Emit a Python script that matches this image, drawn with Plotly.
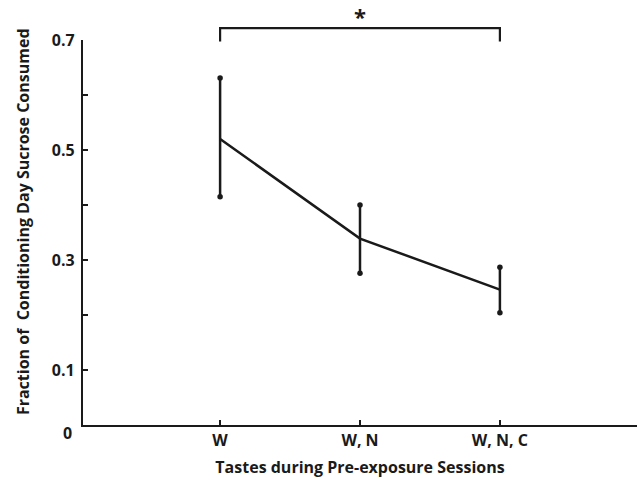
import plotly.graph_objects as go

categories = ["W", "W, N", "W, N, C"]
x_pos = [1, 2, 3]
means = [0.520, 0.339, 0.246]
err_plus = [0.111, 0.061, 0.041]
err_minus = [0.105, 0.063, 0.042]
y_tickvals = [0.1, 0.2, 0.3, 0.4, 0.5, 0.6, 0.7]
y_ticktext = ["0.1", "", "0.3", "", "0.5", "", "0.7"]
sig_pair = [1, 3]
sig_label = "*"

FONT = "Open Sans"
INK = "#1a1a1a"
FS = 16

fig = go.Figure()

fig.add_trace(go.Scatter(
    x=x_pos, y=means, mode="lines",
    line=dict(color=INK, width=2.5),
    error_y=dict(type="data", symmetric=False, array=err_plus, arrayminus=err_minus,
                 color=INK, thickness=2.5, width=0),
    showlegend=False, hoverinfo="skip",
))

ends_x = x_pos + x_pos
ends_y = [m + e for m, e in zip(means, err_plus)] + [m - e for m, e in zip(means, err_minus)]
fig.add_trace(go.Scatter(
    x=ends_x, y=ends_y, mode="markers",
    marker=dict(color=INK, size=5.5),
    showlegend=False, hoverinfo="skip", cliponaxis=False,
))

# significance bracket
br_low, br_high = 0.996, 1.031
fig.add_shape(type="path", xref="x", yref="paper",
              path=f"M {sig_pair[0]} {br_low} L {sig_pair[0]} {br_high} L {sig_pair[1]} {br_high} L {sig_pair[1]} {br_low}",
              line=dict(color=INK, width=2.2))
fig.add_annotation(x=(sig_pair[0] + sig_pair[1]) / 2, xref="x", y=br_high, yref="paper",
                   yanchor="bottom", text="<b>" + sig_label + "</b>", showarrow=False,
                   font=dict(family=FONT, size=22, color=INK), yshift=-5)

# zero label
fig.add_annotation(x=0, xref="paper", y=0, yref="y", text="<b>0</b>", showarrow=False,
                   xanchor="right", yanchor="middle", xshift=-9, yshift=-8,
                   font=dict(family=FONT, size=FS, color=INK))

# y-axis title
fig.add_annotation(x=0, xref="paper", y=0.527, yref="paper",
                   text="<b>Fraction of  Conditioning Day Sucrose Consumed</b>",
                   textangle=-90, showarrow=False, xanchor="center", yanchor="middle",
                   xshift=-60, font=dict(family=FONT, size=FS, color=INK))

fig.update_layout(
    width=639, height=480,
    margin=dict(l=83, r=2, t=40, b=55),
    paper_bgcolor="white", plot_bgcolor="white",
    font=dict(family=FONT, color=INK),
    xaxis=dict(
        range=[0.02, 3.98], tickvals=x_pos,
        ticktext=[f"<b>{c}</b>" for c in categories],
        ticks="inside", ticklen=5, tickwidth=2, tickcolor=INK,
        showline=True, linecolor=INK, linewidth=2.2,
        showgrid=False, zeroline=False,
        tickfont=dict(family=FONT, size=FS, color=INK),
        title=dict(text="<b>Tastes during Pre-exposure Sessions</b>",
                   font=dict(family=FONT, size=FS, color=INK), standoff=12),
    ),
    yaxis=dict(
        range=[0, 0.7], tickvals=y_tickvals,
        ticktext=[f"<b>{t}</b>" if t else "" for t in y_ticktext],
        ticks="inside", ticklen=5, tickwidth=2, tickcolor=INK,
        showline=True, linecolor=INK, linewidth=2.2,
        showgrid=False, zeroline=False, ticklabelstandoff=3,
        tickfont=dict(family=FONT, size=FS, color=INK),
    ),
)

fig.write_html("out.html")
